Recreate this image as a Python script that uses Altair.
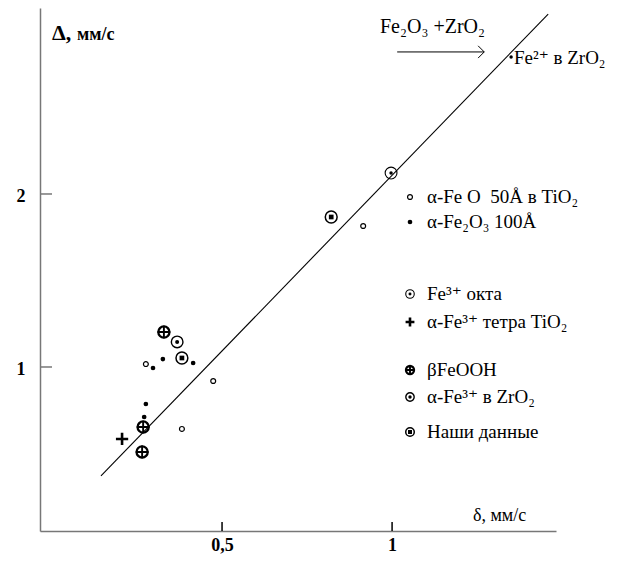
import altair as alt
import pandas as pd

# ---------------- data ----------------
fit_x = [0.144, 1.459]
fit_y = [0.370, 3.040]

open_x = [0.276, 0.474, 0.382, 0.915]          # α-Fe O 50Å в TiO2
open_y = [1.017, 0.919, 0.642, 1.815]

dot_x = [0.326, 0.415, 0.297, 0.276, 0.271]    # α-Fe2O3 100Å
dot_y = [1.046, 1.023, 0.994, 0.786, 0.711]

fe2_x = [1.350]                                # Fe2+ в ZrO2
fe2_y = [2.792]

oplus_x = [0.329, 0.268, 0.265]                # βFeOOH
oplus_y = [1.202, 0.653, 0.509]

tetra_x = [0.206]                              # α-Fe3+ тетра TiO2
tetra_y = [0.584]

okta_x = [0.997]                               # Fe3+ окта
okta_y = [2.121]

zr_x = [0.368]                                 # α-Fe3+ в ZrO2
zr_y = [1.145]

ours_x = [0.821, 0.382]                        # Наши данные
ours_y = [1.867, 1.052]

arrow_x = [1.015, 1.271]
arrow_y = [2.821, 2.821]

x_ticks = [0.5, 1]
y_ticks = [1, 2]

legend_labels = ["α-Fe O \u00a050Å в TiO₂", "α-Fe₂O₃ 100Å", "Fe³⁺ окта",
                 "α-Fe³⁺ тетра TiO₂", "βFeOOH", "α-Fe³⁺ в ZrO₂", "Наши данные"]
legend_kinds = ["open", "dot", "okta", "plus", "oplus", "zr", "ours"]

# ---------------- layout ----------------
W, H = 516, 523
OX, OY = 40, 8            # page position of the plot origin
LEG_Y = [197, 222, 294, 322, 370, 397, 432]
LEG_MX, LEG_TX = 410, 427
SERIF = "Liberation Serif, Times New Roman, DejaVu Serif, serif"
PLUS = "M-1,0L1,0M0,-1L0,1"
HEAD = "M-1,-1L0,0L-1,1"

XS = alt.Scale(domain=[-0.0353, 1.482], nice=False, zero=False)
YS = alt.Scale(domain=[0.052, 3.075], nice=False, zero=False)

XAX = alt.Axis(values=x_ticks, labelExpr="replace(toString(datum.value), '.', ',')",
               ticks=False, grid=False, title=None, labelFont=SERIF,
               labelFontWeight="bold", labelFontSize=18, labelColor="black",
               labelPadding=5, domainColor="#777777", domainWidth=1.5, labelFlush=False)
YAX = alt.Axis(values=y_ticks, format="d", ticks=False, grid=False, title=None,
               labelFont=SERIF, labelFontWeight="bold", labelFontSize=18,
               labelColor="black", labelPadding=15, labelOffset=3,
               domainColor="#777777", domainWidth=1.5, labelFlush=False)

ONE = pd.DataFrame({"a": [0]})


def df_of(xv, yv):
    return pd.DataFrame({"x": xv, "y": yv})


def place(ch, at=None):
    if at is not None:
        return ch.encode(x=alt.value(at[0] - OX), y=alt.value(at[1] - OY))
    return ch.encode(x=alt.X("x:Q", scale=XS, axis=XAX),
                     y=alt.Y("y:Q", scale=YS, axis=YAX))


def marker(kind, df=None, at=None, k=1.0):
    src = df if df is not None else ONE
    out = []

    def pt(**kw):
        out.append(place(alt.Chart(src).mark_point(color="black", opacity=1, **kw), at=at))

    if kind == "open":
        pt(shape="circle", size=24, filled=False, strokeWidth=1.2)
    elif kind == "dot":
        pt(shape="circle", size=22, filled=True, strokeWidth=0)
    elif kind == "oplus":
        pt(shape="circle", size=125 * k * k, filled=False, strokeWidth=2.3)
        pt(shape=PLUS, size=160 * k * k, filled=False, strokeWidth=1.9)
    elif kind == "plus":
        pt(shape=PLUS, size=150 * k * k, filled=False, strokeWidth=2.6)
    elif kind == "okta":
        pt(shape="circle", size=140 * k * k, filled=False, strokeWidth=1.1)
        pt(shape="circle", size=12 * k, filled=True, strokeWidth=0)
    elif kind == "zr":
        pt(shape="circle", size=135 * k * k, filled=False, strokeWidth=1.4)
        pt(shape="circle", size=16 * k, filled=True, strokeWidth=0)
    elif kind == "ours":
        pt(shape="circle", size=140 * k * k, filled=False, strokeWidth=1.5)
        pt(shape="square", size=22 * k, filled=True, strokeWidth=0)
    return out


def label(txt, at, size=19, weight="normal", baseline="middle", align="left"):
    return alt.Chart(ONE).mark_text(
        text=txt, font=SERIF, fontSize=size, fontWeight=weight,
        baseline=baseline, align=align, color="black"
    ).encode(x=alt.value(at[0] - OX), y=alt.value(at[1] - OY))


layers = []

# regression line
layers.append(place(alt.Chart(df_of(fit_x, fit_y)).mark_line(color="black", strokeWidth=1.1)))

# inner ticks
layers.append(alt.Chart(pd.DataFrame({"x": x_ticks})).mark_rule(color="black", strokeWidth=1.5).encode(
    x=alt.X("x:Q", scale=XS, axis=XAX), y=alt.value(H), y2=alt.value(H - 9)))
layers.append(alt.Chart(pd.DataFrame({"y": y_ticks})).mark_rule(color="#777777", strokeWidth=1.5).encode(
    y=alt.Y("y:Q", scale=YS, axis=YAX), x=alt.value(0), x2=alt.value(12)))

# data markers
layers += marker("open", df_of(open_x, open_y))
layers += marker("dot", df_of(dot_x, dot_y))
layers += marker("oplus", df_of(oplus_x, oplus_y))
layers += marker("plus", df_of(tetra_x, tetra_y))
layers += marker("okta", df_of(okta_x, okta_y))
layers += marker("zr", df_of(zr_x, zr_y))
layers += marker("ours", df_of(ours_x, ours_y))
layers.append(place(alt.Chart(df_of(fe2_x, fe2_y)).mark_point(
    shape="circle", size=12, filled=True, color="black", opacity=1, strokeWidth=0)))

# arrow
layers.append(place(alt.Chart(df_of(arrow_x, arrow_y)).mark_line(color="black", strokeWidth=1)))
layers.append(place(alt.Chart(df_of(arrow_x[-1:], arrow_y[-1:])).mark_point(
    shape=HEAD, size=150, filled=False, color="black", opacity=1, strokeWidth=1)))

# annotations
layers.append(label("Fe₂O₃ +ZrO₂", (380, 27), size=20))
layers.append(label("Fe²⁺ в ZrO₂", (514, 58), size=19))
layers.append(label("Δ,", (52, 40), size=22, weight="bold", baseline="alphabetic"))
layers.append(label("мм/с", (77, 40), size=18, weight="bold", baseline="alphabetic"))
layers.append(label("δ, мм/с", (473, 521), size=18, baseline="alphabetic"))

# legend
for lab, kind, yy in zip(legend_labels, legend_kinds, LEG_Y):
    layers += marker(kind, at=(LEG_MX, yy), k=0.72)
    layers.append(label(lab, (LEG_TX, yy)))

chart = alt.layer(*layers).properties(
    width=W, height=H,
    padding={"left": 32, "top": 0, "right": 55, "bottom": 23},
    autosize=alt.AutoSizeParams(type="none"),
).configure_view(strokeWidth=0)

chart.save("out.html", embed_options={"renderer": "svg", "actions": False})
